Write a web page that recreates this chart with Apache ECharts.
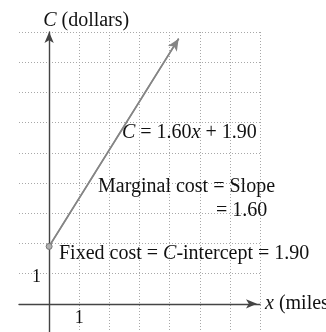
<!DOCTYPE html>
<html>
<head>
<meta charset="utf-8">
<style>
  html, body { margin: 0; padding: 0; background: #fff; }
  #chart { width: 326px; height: 332px; }
</style>
<script src="https://cdn.jsdelivr.net/npm/echarts@6/dist/echarts.min.js"></script>
</head>
<body>
<div id="chart"></div>
<script>
// Cost line C = 1.60x + 1.90 (taxi fare per mile)
const milesX = [0, 4.3];
const costC = [1.9, 8.78];
const intercept = 1.9;
const slope = 1.6;
// only the unit tick is labelled on each axis
const xTickLabels = [1];
const yTickLabels = [1];

const SERIF = '"Liberation Serif", "DejaVu Serif", serif';
const chart = echarts.init(document.getElementById('chart'), null, { renderer: 'canvas' });

const linePoints = milesX.map((x, i) => [x, costC[i]]);
const gridDots = { color: '#a8a8a8', type: [1, 2], width: 1 };

chart.setOption({
  backgroundColor: '#ffffff',
  animation: false,
  grid: { left: 19, right: 66, top: 32, bottom: -2, containLabel: false, outerBoundsMode: 'none' },
  xAxis: {
    type: 'value', min: -1, max: 7, interval: 1,
    name: '{i|x} (miles)',
    nameLocation: 'end', nameGap: 5,
    nameTextStyle: {
      fontFamily: SERIF, fontSize: 20, color: '#111', align: 'left', verticalAlign: 'middle',
      rich: { i: { fontFamily: SERIF, fontSize: 20, fontStyle: 'italic', color: '#111' } }
    },
    axisLine: { onZero: true, lineStyle: { color: '#444', width: 1.4 }, symbol: ['none', 'arrow'], symbolSize: [7, 11], symbolOffset: [0, -3] },
    axisTick: { show: false },
    splitLine: { show: true, showMinLine: false, lineStyle: gridDots },
    // labels sit just under the zero line
    axisLabel: {
      fontFamily: SERIF, fontSize: 18, color: '#111', margin: -25,
      formatter: v => xTickLabels.includes(v) ? String(v) : ''
    }
  },
  yAxis: {
    type: 'value', min: -1, max: 9, interval: 1,
    name: '{i|C} (dollars)',
    nameLocation: 'end', nameGap: 1,
    nameTextStyle: {
      fontFamily: SERIF, fontSize: 20, color: '#111', align: 'left', padding: [0, 0, 0, -6],
      rich: { i: { fontFamily: SERIF, fontSize: 20, fontStyle: 'italic', color: '#111' } }
    },
    axisLine: { onZero: true, lineStyle: { color: '#444', width: 1.4 }, symbol: ['none', 'arrow'], symbolSize: [7, 11] },
    axisTick: { show: false },
    splitLine: { show: true, lineStyle: gridDots },
    // labels sit just left of the zero line, a little below their gridline
    axisLabel: {
      fontFamily: SERIF, fontSize: 18, color: '#111', margin: -22,
      verticalAlign: 'top', lineHeight: 8,
      formatter: v => yTickLabels.includes(v) ? String(v) : ''
    }
  },
  series: [{
    type: 'line',
    data: linePoints.map((p, i) => ({
      value: p,
      symbol: i === 0 ? 'circle' : 'none',
      symbolSize: 6
    })),
    lineStyle: { color: '#858585', width: 1.6 },
    itemStyle: { color: '#b0b0b0', borderColor: '#777', borderWidth: 1 },
    z: 5,
    markLine: {
      silent: true,
      symbol: ['none', 'arrow'],
      symbolSize: [8, 12],
      label: { show: false },
      lineStyle: { color: '#858585', width: 1.6, type: 'solid' },
      data: [[{ coord: linePoints[0] }, { coord: linePoints[linePoints.length - 1] }]]
    }
  }],
  graphic: [
    {
      type: 'text', left: 122, top: 123, z: 10,
      style: {
        text: '{i|C} = 1.60{i|x} + 1.90',
        font: '20px ' + SERIF, fill: '#111',
        rich: { i: { font: 'italic 20px ' + SERIF, fill: '#111' } }
      }
    },
    {
      type: 'text', left: 98, top: 177, z: 10,
      style: { text: 'Marginal cost = Slope', font: '20px ' + SERIF, fill: '#111' }
    },
    {
      type: 'text', left: 216, top: 201, z: 10,
      style: { text: '= ' + slope.toFixed(2), font: '20px ' + SERIF, fill: '#111' }
    },
    {
      type: 'text', left: 59, top: 244, z: 10,
      style: {
        text: 'Fixed cost = {i|C}-intercept = ' + intercept.toFixed(2),
        font: '20px ' + SERIF, fill: '#111',
        rich: { i: { font: 'italic 20px ' + SERIF, fill: '#111' } }
      }
    }
  ]
});
</script>
</body>
</html>
